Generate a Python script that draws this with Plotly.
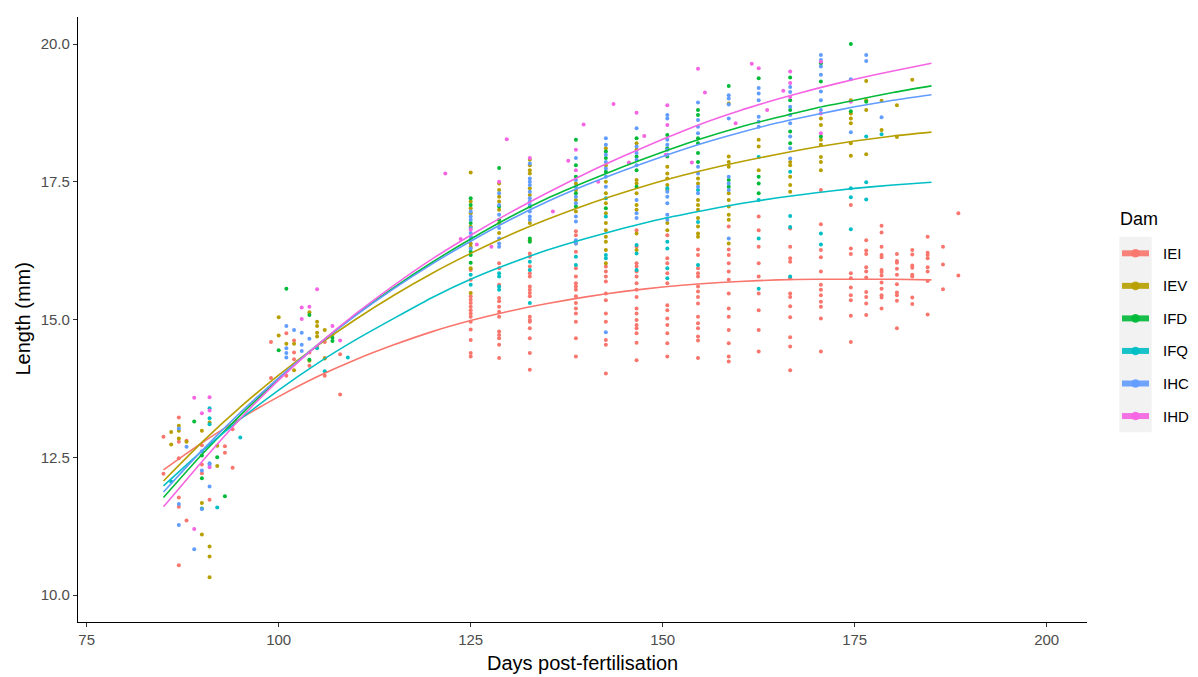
import plotly.graph_objects as go

# ---------------- data ----------------
DAMS = ["IEI", "IEV", "IFD", "IFQ", "IHC", "IHD"]
COLORS = ["#F8766D", "#B79F00", "#00BA38", "#00BFC4", "#619CFF", "#F564E3"]

IEI_points = {
    85: [12.87, 12.20],
    87: [13.22, 12.78, 12.48, 11.77, 11.60, 10.54],
    88: [12.80, 11.35],
    90: [12.72, 12.37, 12.21],
    91: [11.73],
    93: [12.70, 12.58],
    94: [13.01, 12.31],
    99: [14.59, 13.94],
    101: [14.75, 13.98],
    102: [14.62, 14.40, 14.28],
    104: [14.40, 14.16],
    105: [14.49],
    106: [14.59, 14.30, 13.98],
    108: [14.37, 13.64],
    125: [15.90, 15.72, 15.42, 15.36, 15.30, 15.23, 15.17, 15.11, 15.05, 14.96, 14.82, 14.63, 14.39, 14.33],
    128.7: [16.02, 15.93, 15.63, 15.39, 15.33, 15.23, 15.14, 15.05, 14.78, 14.72, 14.66, 14.54, 14.30],
    132.7: [16.20, 16.14, 15.96, 15.84, 15.78, 15.60, 15.54, 15.48, 15.42, 15.05, 14.99, 14.96, 14.84, 14.66, 14.39, 14.09],
    138.7: [16.60, 16.53, 16.23, 15.93, 15.78, 15.66, 15.60, 15.54, 15.42, 15.30, 15.20, 15.11, 14.96, 14.66, 14.33],
    142.6: [15.96, 15.87, 15.78, 15.69, 15.47, 15.35, 15.11, 14.96, 14.63, 14.54, 14.02],
    146.6: [16.62, 16.32, 16.02, 15.96, 15.87, 15.78, 15.66, 15.54, 15.41, 15.20, 15.11, 14.99, 14.90, 14.84, 14.75, 14.58, 14.26],
    150.6: [16.53, 16.11, 16.02, 15.84, 15.66, 15.26, 15.17, 15.02, 14.90, 14.75, 14.57, 14.33],
    154.6: [16.27, 16.17, 15.93, 15.84, 15.78, 15.60, 15.51, 15.41, 15.29, 15.05, 14.93, 14.84, 14.69, 14.62, 14.30],
    158.6: [16.69, 16.27, 16.17, 16.02, 15.87, 15.72, 15.47, 15.20, 15.05, 14.81, 14.57, 14.33, 14.24],
    162.5: [16.87, 16.62, 16.32, 16.02, 15.78, 15.47, 15.17, 14.81, 14.42],
    166.6: [16.65, 16.32, 16.11, 16.05, 15.75, 15.47, 15.41, 15.24, 15.04, 14.68, 14.51, 14.08],
    170.6: [17.35, 16.73, 16.26, 16.13, 15.87, 15.63, 15.54, 15.44, 15.32, 15.23, 15.02, 14.42],
    174.5: [17.08, 16.29, 16.19, 15.84, 15.75, 15.58, 15.44, 15.35, 15.07, 14.59],
    176.5: [16.44, 16.25, 16.19, 15.95, 15.87, 15.76, 15.50, 15.41, 15.29, 15.08],
    178.5: [16.70, 16.58, 16.32, 16.17, 16.13, 15.90, 15.86, 15.80, 15.67, 15.56, 15.44, 15.40, 15.20],
    180.5: [16.19, 16.06, 16.03, 15.92, 15.81, 15.64, 15.49, 15.44, 15.34, 14.84],
    182.5: [16.26, 16.18, 15.98, 15.94, 15.81, 15.78, 15.40, 15.28],
    184.5: [16.50, 16.21, 16.17, 16.11, 15.95, 15.87, 15.70, 15.09],
    186.5: [16.32, 16.00, 15.55],
    188.5: [16.93, 15.80],
}

IEV_points = {
    86: [12.96, 12.73],
    87: [13.07, 12.98, 12.84],
    88: [12.78],
    90: [12.98, 11.67, 11.10],
    91: [13.13, 10.88, 10.70, 10.32],
    92: [12.71, 12.34],
    100: [15.04, 14.71],
    101: [14.56],
    102: [14.56, 14.08],
    104: [15.13, 14.25],
    105: [14.96, 14.88, 14.76, 14.69],
    106: [14.81, 14.29],
    107: [14.73],
    125: [17.67, 17.14, 17.02, 16.93, 16.69, 16.38, 16.32, 15.93, 15.48],
    128.7: [17.47, 17.35, 17.23, 17.14, 16.99, 16.75, 16.57],
    132.7: [17.90, 17.80, 17.71, 17.65, 17.38, 17.26, 16.75, 16.44],
    138.7: [17.47, 17.35, 17.17, 16.96, 16.38],
    142.6: [18.11, 17.80, 17.50, 17.29, 17.11, 16.93, 16.75, 16.62, 16.50, 16.41, 16.26, 16.02],
    146.6: [18.20, 18.08, 17.53, 17.47, 17.29, 17.08, 16.99, 16.56, 16.26],
    150.6: [17.77, 17.65, 17.56, 17.44, 17.35, 16.75, 16.62],
    154.6: [17.56, 17.47, 17.17, 17.08, 16.99, 16.84, 16.69, 16.56, 16.50],
    158.6: [18.92, 17.96, 17.86, 17.77, 17.29, 17.17, 17.05, 16.90, 16.81, 16.38],
    162.5: [18.26, 18.14, 17.71],
    166.6: [17.86, 17.80, 17.59, 17.44, 17.32],
    170.6: [18.65, 18.53, 18.26, 18.17, 17.95, 17.86, 17.71],
    174.5: [18.98, 18.74, 18.65, 18.56, 18.20, 17.97],
    176.5: [19.33, 18.98, 18.80, 18.00],
    178.5: [18.97, 18.44],
    180.5: [18.89, 18.31],
    182.5: [19.35],
}

IFD_points = {
    89: [13.15],
    90: [12.53, 12.12, 11.57],
    92: [12.50],
    93: [11.79],
    100: [14.44],
    101: [15.56],
    104: [15.08, 14.27],
    107: [14.67, 14.61],
    125: [17.20, 17.08, 16.75, 16.23, 16.17, 16.03],
    128.7: [17.75, 17.05, 16.81],
    132.7: [17.05, 16.47, 16.41],
    138.7: [18.26, 17.80, 17.59, 17.29, 17.05],
    142.6: [18.05, 17.93, 17.68, 17.02],
    146.6: [18.29, 17.96, 17.71, 17.41],
    150.6: [18.35, 18.11, 17.96],
    154.6: [18.80, 18.71, 18.29, 18.20, 18.02, 17.86],
    158.6: [19.24, 17.53, 17.41],
    162.5: [19.38, 17.59, 17.47, 17.29],
    166.6: [19.39, 18.98, 18.80, 18.41, 18.20],
    170.6: [19.65, 19.32, 18.32],
    174.5: [20.00, 18.78],
    176.5: [18.95],
}

IFQ_points = {
    86: [12.06],
    91: [13.39, 13.21, 13.10],
    92: [11.59],
    95: [12.86],
    105: [14.48],
    106: [14.06],
    109: [14.31],
    125: [15.81, 15.63],
    128.7: [15.84, 15.78, 15.60, 15.54],
    132.7: [16.05, 15.90, 15.30],
    138.7: [16.14, 15.99],
    142.6: [17.20, 16.87, 16.17, 16.11],
    146.6: [16.35, 16.20, 15.90],
    150.6: [17.38, 16.41, 16.29, 15.93, 15.75],
    154.6: [17.35, 16.77, 15.99],
    162.5: [17.95, 17.17, 16.47, 15.56],
    166.6: [17.68, 16.88, 16.68, 15.78],
    170.6: [16.56, 16.36],
    174.5: [17.38, 17.22, 16.64],
    176.5: [18.32, 17.49, 17.18],
    178.5: [18.36],
}

IHC_points = {
    87: [13.02, 11.65, 11.27],
    88: [12.69],
    89: [10.83],
    90: [12.61, 12.26, 11.56],
    91: [12.39, 12.36, 11.97],
    101: [14.88, 14.48, 14.39, 14.31],
    102: [14.81],
    103: [14.76, 14.54, 14.43],
    104: [14.65],
    125: [16.96, 16.87, 16.81, 16.66, 16.57, 16.51, 16.45, 16.29],
    128.7: [17.29, 17.08, 16.90, 16.66, 16.47, 16.38, 16.32],
    132.7: [17.83, 17.56, 17.50, 17.44, 17.32, 17.20, 17.14, 17.08, 16.96, 16.87, 16.81],
    138.7: [17.93, 17.53, 17.41, 17.23, 17.11, 16.87, 16.78, 16.44, 16.38],
    142.6: [18.29, 18.17, 17.99, 17.86, 17.74, 17.59, 17.41, 14.77],
    146.6: [18.47, 18.14, 18.02, 17.90, 17.80, 17.17, 16.93, 16.84],
    150.6: [18.71, 18.65, 18.26, 18.17, 18.08, 17.99, 17.32, 17.23, 17.11, 16.90, 16.81],
    154.6: [18.94, 18.62, 18.50, 18.38, 17.77, 17.65, 17.41, 17.29],
    158.6: [19.07, 19.01, 18.90, 18.65, 17.59, 17.47, 17.35, 16.47],
    162.5: [19.20, 19.10, 18.98, 18.68, 18.59, 18.50],
    166.6: [19.22, 19.13, 18.86, 18.71, 18.56, 18.32, 18.11, 17.92],
    170.6: [19.80, 19.71, 19.59, 19.44, 19.14, 18.98, 18.80],
    174.5: [19.36, 18.40],
    176.5: [19.80, 19.69],
    178.5: [18.67],
}

IHD_points = {
    89: [13.58, 11.20],
    90: [13.30],
    91: [13.59, 13.35, 12.32],
    103: [15.22, 15.01],
    104: [15.23],
    105: [15.55],
    107: [14.88],
    108: [14.62],
    121.7: [17.65],
    123.7: [16.46],
    125: [16.63],
    125.8: [16.36],
    127.7: [16.32],
    128.7: [17.50],
    129.7: [18.27],
    132.7: [17.93],
    135.7: [16.96],
    137.7: [17.88],
    138.7: [18.08, 17.71],
    139.7: [18.54],
    141.6: [17.50],
    143.6: [18.91],
    145.6: [17.85],
    146.6: [18.75],
    147.6: [18.33],
    150.4: [17.99],
    150.6: [18.89, 18.53],
    153.8: [17.85],
    154.6: [19.55],
    155.5: [19.12],
    159.5: [18.56],
    161.6: [19.64],
    162.5: [19.56],
    163.6: [18.80],
    165.7: [19.15],
    166.6: [19.50, 19.29, 19.04],
    170.6: [19.68, 18.74, 18.38],
    174.5: [18.95],
}

# smoothed growth curves, every 5 days
FIT_DAYS = [85, 90, 95, 100, 105, 110, 115, 120, 125, 130, 135,
            140, 145, 150, 155, 160, 165, 170, 175, 180, 185]
IEI_fit = [12.27, 12.76, 13.20, 13.60, 13.96, 14.27, 14.54, 14.78, 14.98, 15.15, 15.29,
           15.41, 15.51, 15.59, 15.65, 15.69, 15.72, 15.73, 15.73, 15.73, 15.72]
IEV_fit = [12.07, 12.77, 13.41, 13.99, 14.52, 15.00, 15.44, 15.84, 16.20, 16.53, 16.82,
           17.08, 17.31, 17.52, 17.70, 17.86, 18.00, 18.13, 18.24, 18.33, 18.40]
IFD_fit = [11.77, 12.55, 13.26, 13.92, 14.53, 15.08, 15.58, 16.04, 16.46, 16.85, 17.20,
           17.50, 17.78, 18.04, 18.28, 18.49, 18.67, 18.84, 18.98, 19.12, 19.24]
IFQ_fit = [11.98, 12.61, 13.19, 13.72, 14.20, 14.63, 15.02, 15.40, 15.73, 16.01, 16.26,
           16.47, 16.66, 16.83, 16.97, 17.10, 17.21, 17.30, 17.38, 17.44, 17.49]
IHC_fit = [11.87, 12.62, 13.31, 13.94, 14.53, 15.07, 15.56, 16.01, 16.42, 16.80, 17.14,
           17.44, 17.71, 17.96, 18.19, 18.39, 18.57, 18.72, 18.86, 18.98, 19.08]
IHD_fit = [11.60, 12.42, 13.20, 13.90, 14.53, 15.10, 15.62, 16.10, 16.53, 16.93, 17.30,
           17.65, 17.97, 18.27, 18.55, 18.79, 19.00, 19.19, 19.36, 19.51, 19.65]

X_TICKS = [75, 100, 125, 150, 175, 200]
Y_TICKS = [10.0, 12.5, 15.0, 17.5, 20.0]

POINTS = [IEI_points, IEV_points, IFD_points, IFQ_points, IHC_points, IHD_points]
FITS = [IEI_fit, IEV_fit, IFD_fit, IFQ_fit, IHC_fit, IHD_fit]

# ---------------- figure ----------------
fig = go.Figure()
FONT = "Liberation Sans, Arial, sans-serif"

for dam, col, pts in zip(DAMS, COLORS, POINTS):
    xs, ys = [], []
    for d, vals in pts.items():
        xs += [d] * len(vals)
        ys += vals
    fig.add_trace(go.Scatter(x=xs, y=ys, mode="markers", name=dam,
                             marker=dict(color=col, size=4, line=dict(width=0)),
                             showlegend=False, hoverinfo="skip"))

for dam, col, fit in zip(DAMS, COLORS, FITS):
    fig.add_trace(go.Scatter(x=FIT_DAYS, y=fit, mode="lines", name=dam,
                             line=dict(color=col, width=1.6, shape="spline", smoothing=0.6),
                             showlegend=False))

# plot area in pixels
L, R, T, B = 78, 1087, 17, 622
W, H = 1198, 677


def pxx(x):
    return (x - L) / (R - L)


def pxy(y):
    return (B - y) / (B - T)


fig.update_layout(
    width=W, height=H,
    margin=dict(l=L, r=W - R, t=T, b=H - B),
    plot_bgcolor="white", paper_bgcolor="white",
    font=dict(family=FONT, color="black"),
    showlegend=False,
    xaxis=dict(range=[73.87, 205.25], showgrid=False, zeroline=False,
               showline=True, linecolor="black", linewidth=1.2,
               ticks="outside", ticklen=4, tickcolor="#333333", tickwidth=1.1,
               tickvals=X_TICKS, ticktext=[str(v) for v in X_TICKS],
               tickfont=dict(size=15, color="#4D4D4D", family=FONT)),
    yaxis=dict(range=[9.51, 20.49], showgrid=False, zeroline=False,
               showline=True, linecolor="black", linewidth=1.2,
               ticks="outside", ticklen=4, tickcolor="#333333", tickwidth=1.1,
               tickvals=Y_TICKS, ticktext=[f"{v:.1f}" for v in Y_TICKS],
               tickfont=dict(size=15, color="#4D4D4D", family=FONT)),
)

annotations = [
    dict(text="Days post-fertilisation", x=pxx((L + R) / 2), y=pxy(663),
         xref="paper", yref="paper", showarrow=False,
         xanchor="center", yanchor="middle", font=dict(size=20, color="black", family=FONT)),
    dict(text="Length (mm)", x=pxx(22), y=pxy((T + B) / 2),
         xref="paper", yref="paper", showarrow=False, textangle=-90,
         xanchor="center", yanchor="middle", font=dict(size=20, color="black", family=FONT)),
    dict(text="Dam", x=pxx(1118), y=pxy(219),
         xref="paper", yref="paper", showarrow=False,
         xanchor="left", yanchor="middle", font=dict(size=18, color="black", family=FONT)),
]

shapes = [dict(type="rect", xref="paper", yref="paper",
               x0=pxx(1119.3), x1=pxx(1151.7), y0=pxy(432.3), y1=pxy(236.7),
               fillcolor="#F2F2F2", line=dict(width=0), layer="below")]

for i, (dam, col) in enumerate(zip(DAMS, COLORS)):
    yc = 253.3 + i * 32.55
    shapes.append(dict(type="line", xref="paper", yref="paper",
                       x0=pxx(1122), x1=pxx(1149), y0=pxy(yc), y1=pxy(yc),
                       line=dict(color=col, width=6), opacity=0.9))
    r = 4.3
    shapes.append(dict(type="circle", xref="paper", yref="paper",
                       x0=pxx(1135.5 - r), x1=pxx(1135.5 + r), y0=pxy(yc + r), y1=pxy(yc - r),
                       fillcolor=col, line=dict(width=0), opacity=0.9))
    annotations.append(dict(text=dam, x=pxx(1161), y=pxy(yc),
                            xref="paper", yref="paper", showarrow=False,
                            xanchor="left", yanchor="middle",
                            font=dict(size=15, color="black", family=FONT)))

fig.update_layout(annotations=annotations, shapes=shapes)

fig.write_html("out.html")
